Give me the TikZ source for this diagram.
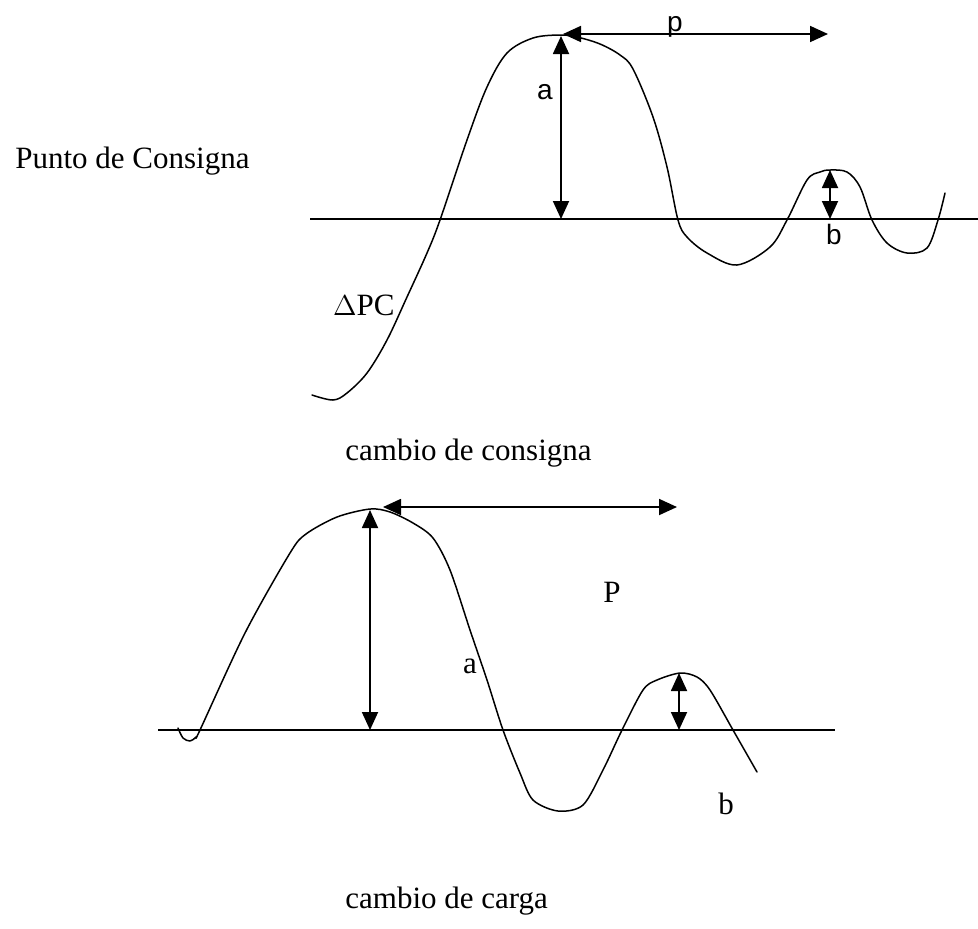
\documentclass[tikz,border=0pt]{standalone}
\usepackage{fontspec}
\setmainfont{Liberation Serif}
\newfontfamily\labsans{Liberation Sans}
\usetikzlibrary{arrows.meta}
\begin{document}
\begin{tikzpicture}[x=0.5pt,y=-0.5pt,
  curve/.style={line width=0.75pt, line join=round, line cap=round},
  axis/.style={line width=0.8pt},
  dim/.style={line width=0.9pt, {Triangle[length=9pt,width=8pt]}-{Triangle[length=9pt,width=8pt]}},
  lbl/.style={inner sep=0pt, font=\fontsize{15.5}{18}\selectfont},
  slbl/.style={inner sep=0pt, font=\labsans\fontsize{14}{16}\selectfont}]
\useasboundingbox (0,0) rectangle (978,928);

% ---------- top graph ----------
\coordinate (b1L) at (310,219);
\coordinate (b1R) at (978,219);
\draw[axis] (b1L) -- (b1R);
\draw[curve] plot[smooth, tension=0.55] coordinates {
 (312,395) (333,400) (347,393) (367,373) (387,340) (407,297) (427,253) (440,220)
 (467,140) (487,87) (507,53) (533,38) (560,35) (577,37) (600,44) (620,55) (633,69)
 (653,117) (667,167) (678,220) (687,237) (707,253) (737,265) (770,247) (787,220)
 (807,180) (820,172) (830,170) (847,172) (860,187) (872,220) (887,243) (907,253)
 (927,248) (938,220) (945,193)};
\coordinate (a1base) at (561,219);
\coordinate (a1top) at (561,36);
\draw[dim] (a1base) -- (a1top);
\coordinate (p1L) at (563,34);
\coordinate (p1R) at (828,34);
\draw[dim] (p1L) -- (p1R);
\coordinate (bb1base) at (830,219);
\coordinate (bb1top) at (830,170);
\draw[dim] (bb1base) -- (bb1top);

\node[lbl, anchor=base east] (punto) at (250,168) {Punto de Consigna};
\node[lbl, anchor=base east] (dpc) at (395,315) {$\Delta$PC};
\node[slbl, anchor=base] (la1) at (545,99) {a};
\node[slbl, anchor=base] (lp1) at (675,31) {p};
\node[slbl, anchor=base] (lb1) at (834,244) {b};
\node[lbl, anchor=base west] (cap1) at (345,460) {cambio de consigna};

% ---------- bottom graph ----------
\coordinate (b2L) at (158,730);
\coordinate (b2R) at (835,730);
\draw[axis] (b2L) -- (b2R);
\draw[curve] plot[smooth, tension=0.5] coordinates {
 (178,728) (183,738) (190,741) (196,737) (200,730) (245,633) (290,553)
 (306,534) (337,517) (370,509) (390,512) (413,523) (433,538) (450,570) (470,630)
 (487,680) (503,730) (520,773) (533,800) (558,811) (583,805) (603,770) (622,730)
 (643,690) (657,680) (680,673) (697,677) (710,690) (733,730) (757,772)};
\coordinate (a2base) at (370,730);
\coordinate (a2top) at (370,510);
\draw[dim] (a2base) -- (a2top);
\coordinate (p2L) at (383,507);
\coordinate (p2R) at (677,507);
\draw[dim] (p2L) -- (p2R);
\coordinate (bb2base) at (679,730);
\coordinate (bb2top) at (679,673);
\draw[dim] (bb2base) -- (bb2top);

\node[lbl] (la2) at (470,666) {a};
\node[lbl, anchor=base] (lp2) at (612,602) {P};
\node[lbl, anchor=base] (lb2) at (726,814) {b};
\node[lbl, anchor=base west] (cap2) at (345,908) {cambio de carga};
\end{tikzpicture}
\end{document}
